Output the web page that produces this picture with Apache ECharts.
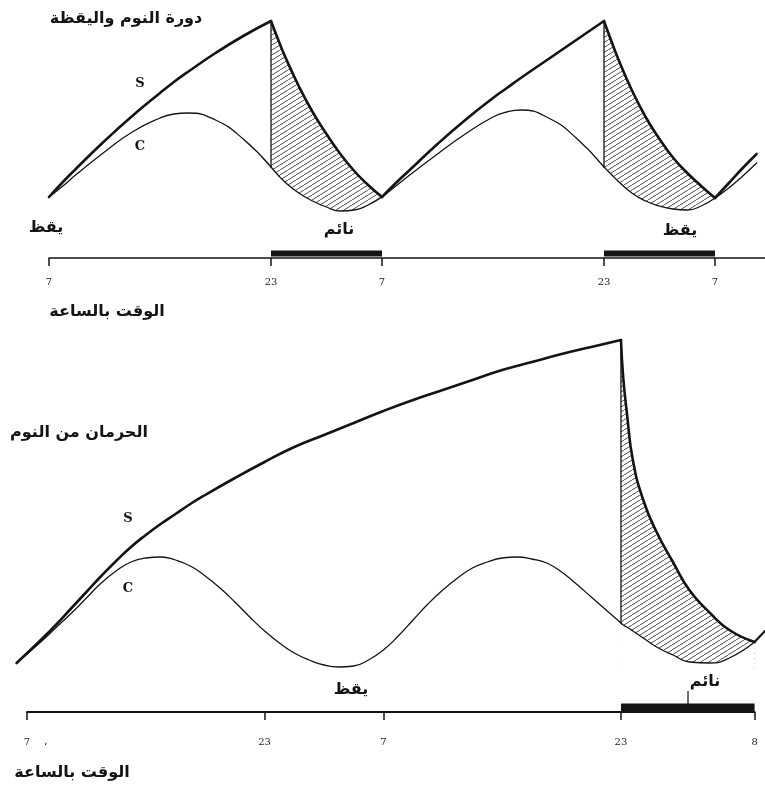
<!DOCTYPE html>
<html><head><meta charset="utf-8">
<script src="https://cdn.jsdelivr.net/npm/echarts@6/dist/echarts.min.js"></script>
<style>html,body{margin:0;padding:0;background:#fff}#c{width:765px;height:792px}</style>
</head><body><div id="c"></div>
<script>
// ===== DATA (hours since 07:00 of day 1; process level in arbitrary units) =====
// --- top panel: normal sleep-wake cycle ---
const topTickHours  = [0, 16, 24, 40, 48];
const topTickLabels = ['7', '23', '7', '23', '7'];
const topSleepBlocks = [[16, 24], [40, 48]];

const topWake1T = [0, 1, 2, 4, 6, 8, 9, 10, 12, 14, 16];
const topWake1S = [61, 76, 90, 117, 142, 165, 176, 186, 205, 222, 237];
const topWake1C = [61, 72, 84, 106, 126, 140, 144, 145, 138, 119, 91];

const topSleep1T = [16, 16.5, 17, 18, 19, 20, 21, 22, 23, 24];
const topSleep1S = [237, 219, 202, 172, 146, 124, 104, 87, 73, 61];
const topSleep1C = [91, 83, 76, 65, 57, 51, 47, 48, 53, 61];

const topWake2T = [24, 25, 26, 28, 30, 32, 33, 34, 36, 38, 40];
const topWake2S = [61, 75, 88, 114, 138, 160, 170, 180, 199, 218, 237];
const topWake2C = [61, 72, 83, 104, 124, 141, 146, 148, 140, 120, 91];

const topSleep2T = [40, 40.5, 41, 42, 43, 44, 45, 46, 47, 48];
const topSleep2S = [237, 218, 200, 168, 141, 119, 100, 85, 72, 60];
const topSleep2C = [91, 84, 77, 65, 57, 52, 49, 48, 52, 60];

const topWake3T = [48, 49, 50, 51];
const topWake3S = [60, 75, 90, 104];
const topWake3C = [60, 70, 82, 95];

// --- bottom panel: sleep deprivation ---
const botTickHours  = [0, 16, 24, 40, 49];
const botTickLabels = ['7', '23', '7', '23', '8'];
const botSleepBlocks = [[40, 49]];

const botWakeST = [-0.7, 1, 2, 3, 4, 5, 6, 7, 8, 9, 10, 11, 12, 14, 16, 18, 20, 22, 24, 26, 28, 30, 32, 34, 36, 38, 40];
const botWakeS  = [49, 73, 88, 104, 120, 136, 151, 165, 177, 188, 198, 208, 217, 234, 250, 265, 277, 289, 301, 312, 322, 332, 342, 350, 358, 365, 372];

const botWakeCT = [-0.7, 1, 2, 3, 4, 5, 6, 7, 8, 9, 10, 11, 12, 13, 14, 15, 16, 17, 18, 19, 20,
                   21, 22, 23, 24, 25, 26, 27, 28, 29, 30, 31, 32, 33, 34, 35, 36, 37, 38, 39, 40];
const botWakeC  = [49, 71, 85, 99, 114, 129, 141, 150, 154, 155, 152, 146, 136, 124, 110, 95, 81, 69, 59, 52, 47,
                   45, 46, 52, 62, 76, 92, 108, 122, 134, 144, 150, 154, 155, 153, 149, 140, 128, 115, 102, 89];

const botSleepT = [40, 40.15, 40.4, 40.8, 41.5, 42.4, 43.5, 44.6, 46, 47.3, 49];
const botSleepS = [372, 335, 299, 252, 212, 180, 150, 122, 99, 82, 70];
const botSleepC = [89, 87, 85, 81, 74, 65, 57, 50, 49, 54, 70];

const botWake2T = [49, 49.7];
const botWake2S = [70, 81];

// ===== LAYOUT =====
const TOP = {left: 49, pxPerHour: 13.875, xMin: 0, xMax: 51.6, top: 0, axisY: 258};
const BOT = {left0: 27, pxPerHour: 14.85, xMin: -1.2, xMax: 49.7, top: 330, axisY: 712};
const INK = '#141414';
const AR_FONT = 'bold 16px "DejaVu Sans"';
const SMOOTH = 0.5;
const HATCH_BASE = 40;   // hatch drawn from just below the C curve

function hatchCanvas() {
  const w = 8, h = 5;
  const c = document.createElement('canvas');
  c.width = w; c.height = h;
  const g = c.getContext('2d');
  g.strokeStyle = '#3a3a3a';
  g.lineWidth = 0.9;
  for (let k = -1; k <= 1; k++) {
    g.beginPath();
    g.moveTo(k * w, h - k * h);
    g.lineTo(k * w + w, -k * h);
    g.stroke();
  }
  return c;
}
const hatch = {image: hatchCanvas(), repeat: 'repeat'};

const pts = (t, v) => t.map((x, i) => [x, v[i]]);

function line(g, data, width, z, smooth) {
  return {
    type: 'line', xAxisIndex: g, yAxisIndex: g, data, symbol: 'none', showSymbol: false,
    smooth: smooth === undefined ? SMOOTH : smooth, silent: true,
    lineStyle: {color: INK, width, cap: 'round', join: 'round'}, z
  };
}
// hatched band between S (top) and C (bottom): hatch under S, then white under C
function hatchBand(g, t, s, c) {
  return [
    {type: 'line', xAxisIndex: g, yAxisIndex: g, data: pts(t, s), symbol: 'none', smooth: SMOOTH,
     lineStyle: {width: 0, opacity: 0}, areaStyle: {color: hatch, opacity: 1, origin: HATCH_BASE}, silent: true, z: 1},
    {type: 'line', xAxisIndex: g, yAxisIndex: g, data: pts(t, c), symbol: 'none', smooth: SMOOTH,
     lineStyle: {width: 0, opacity: 0}, areaStyle: {color: '#fff', opacity: 1, origin: 'start'}, silent: true, z: 2}
  ];
}
function bar(g, block, y, width) {
  return {type: 'line', xAxisIndex: g, yAxisIndex: g, data: [[block[0], y], [block[1], y]],
    symbol: 'none', silent: true, lineStyle: {color: INK, width, cap: 'butt'}, z: 5};
}

const series = [];
// top panel
series.push(...hatchBand(0, topSleep1T, topSleep1S, topSleep1C));
series.push(...hatchBand(0, topSleep2T, topSleep2S, topSleep2C));
[[topWake1T, topWake1S, topWake1C], [topSleep1T, topSleep1S, topSleep1C], [topWake2T, topWake2S, topWake2C],
 [topSleep2T, topSleep2S, topSleep2C], [topWake3T, topWake3S, topWake3C]].forEach(([t, s, c]) => {
  series.push(line(0, pts(t, s), 2.6, 3));
  series.push(line(0, pts(t, c), 1.3, 3));
});
series.push(line(0, [[topSleep1T[0], topSleep1C[0]], [topSleep1T[0], topSleep1S[0]]], 1.3, 3, false));
series.push(line(0, [[topSleep2T[0], topSleep2C[0]], [topSleep2T[0], topSleep2S[0]]], 1.3, 3, false));
topSleepBlocks.forEach(b => series.push(bar(0, b, 4.5, 6)));
// bottom panel
series.push(...hatchBand(1, botSleepT, botSleepS, botSleepC));
series.push(line(1, pts(botWakeST, botWakeS), 2.6, 3));
series.push(line(1, pts(botWakeCT, botWakeC), 1.3, 3));
series.push(line(1, pts(botSleepT, botSleepS), 2.6, 3));
series.push(line(1, pts(botSleepT, botSleepC), 1.3, 3));
series.push(line(1, pts(botWake2T, botWake2S), 2.2, 3));
series.push(line(1, [[botSleepT[0], botSleepC[0]], [botSleepT[0], botSleepS[0]]], 1.3, 3, false));
series.push(line(1, [[botTickHours[0], 0], [botTickHours[botTickHours.length - 1], 0]], 1.8, 4, false));
botSleepBlocks.forEach(b => series.push(bar(1, b, 4.5, 8)));

function xAxis(g, cfg, ticks, labels, margin, showLine) {
  return {
    gridIndex: g, type: 'value', min: cfg.xMin, max: cfg.xMax, z: 6,
    axisLine: {show: showLine, lineStyle: {color: INK, width: 1.6}},
    axisTick: {show: true, customValues: ticks, length: 8, lineStyle: {color: INK, width: 1.5}},
    axisLabel: {show: true, customValues: ticks, margin,
      formatter: v => labels[ticks.indexOf(v)] || '',
      fontFamily: '"DejaVu Serif"', fontSize: 10, color: '#222'},
    splitLine: {show: false}
  };
}
function txt(text, x, y, font) {
  return {type: 'text', x, y, silent: true, z: 20,
    style: {text, font, fill: INK, align: 'center', verticalAlign: 'middle'}};
}

const botLeft = BOT.left0 + BOT.xMin * BOT.pxPerHour;
const option = {
  animation: false,
  backgroundColor: '#fff',
  grid: [
    {left: TOP.left, top: TOP.top, width: (TOP.xMax - TOP.xMin) * TOP.pxPerHour, height: TOP.axisY - TOP.top},
    {left: botLeft, top: BOT.top, width: (BOT.xMax - BOT.xMin) * BOT.pxPerHour, height: BOT.axisY - BOT.top}
  ],
  xAxis: [
    xAxis(0, TOP, topTickHours, topTickLabels, 19, true),
    xAxis(1, BOT, botTickHours, botTickLabels, 25, false)
  ],
  yAxis: [
    {gridIndex: 0, type: 'value', min: 0, max: TOP.axisY - TOP.top, show: false},
    {gridIndex: 1, type: 'value', min: 0, max: BOT.axisY - BOT.top, show: false}
  ],
  series,
  graphic: [
    txt('دورة النوم واليقظة', 126, 19, AR_FONT),
    txt('يقظ', 46, 228, AR_FONT),
    txt('نائم', 339, 230, AR_FONT),
    txt('يقظ', 680, 231, AR_FONT),
    txt('الوقت بالساعة', 107, 312, AR_FONT),
    txt('S', 140, 84, 'bold 13px "DejaVu Serif"'),
    txt('C', 140, 147, 'bold 13px "DejaVu Serif"'),
    txt('الحرمان من النوم', 79, 433, AR_FONT),
    txt('S', 128, 519, 'bold 13px "DejaVu Serif"'),
    txt('C', 128, 589, 'bold 13px "DejaVu Serif"'),
    txt('يقظ', 351, 690, AR_FONT),
    txt('نائم', 705, 682, AR_FONT),
    txt('،', 45, 742, '10px "DejaVu Serif"'),
    txt('الوقت بالساعة', 72, 773, AR_FONT),
    {type: 'line', z: 20, shape: {x1: 688, y1: 691, x2: 688, y2: 704}, style: {stroke: INK, lineWidth: 1.2}, silent: true}
  ]
};
echarts.init(document.getElementById('c'), null, {renderer: 'canvas'}).setOption(option);
</script></body></html>
